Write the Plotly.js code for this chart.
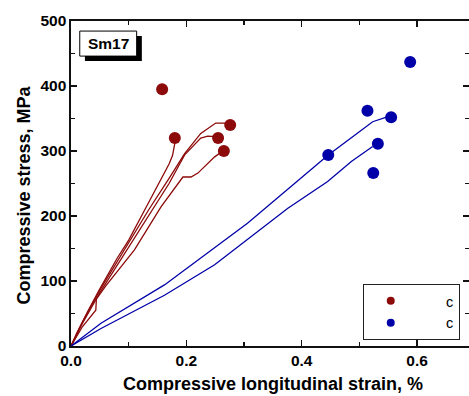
<!DOCTYPE html>
<html>
<head>
<meta charset="utf-8">
<script src="https://cdn.plot.ly/plotly-3.0.1.min.js"></script>
<style>html,body{margin:0;padding:0;background:#fff;}#chart{width:469px;height:396px;}</style>
</head>
<body>
<div id="chart"></div>
<script>
// Red (first group) stress-strain curves
const redA_x = [0, 0.01, 0.03, 0.05, 0.08, 0.10, 0.13, 0.155, 0.17, 0.176, 0.18];
const redA_y = [0, 20, 55, 88, 135, 163, 213, 255, 280, 293, 312];
const redB_x = [0, 0.02, 0.05, 0.10, 0.135, 0.17, 0.197, 0.225, 0.251, 0.269, 0.274];
const redB_y = [0, 37, 86, 158, 210, 258, 296, 327, 343, 343, 340];
const redC_x = [0, 0.02, 0.05, 0.10, 0.14, 0.17, 0.197, 0.225, 0.237, 0.251];
const redC_y = [0, 35, 82, 152, 206, 250, 294, 320, 323, 322];
const redD_x = [0, 0.02, 0.043, 0.044, 0.06, 0.11, 0.156, 0.194, 0.208, 0.22, 0.249, 0.262];
const redD_y = [0, 30, 55, 72, 92, 148, 214, 260, 260, 266, 291, 299];
// Blue (second group) stress-strain curves
const blueE_x = [0, 0.052, 0.162, 0.306, 0.446, 0.485, 0.523, 0.547];
const blueE_y = [0, 35, 94, 189, 294, 320, 345, 352];
const blueF_x = [0, 0.052, 0.162, 0.249, 0.376, 0.445, 0.486, 0.523];
const blueF_y = [0, 27, 78, 125, 212, 253, 284, 307];
// Failure points
const redPts_x = [0.158, 0.180, 0.276, 0.255, 0.265];
const redPts_y = [395, 320, 340, 320, 300];
const bluePts_x = [0.588, 0.514, 0.555, 0.532, 0.524, 0.446];
const bluePts_y = [437, 362, 352, 311, 266, 294];
// Labels
const legendNames = ["c", "c"];
const specimen = "Sm17";
const xTitle = "Compressive longitudinal strain, %";
const yTitle = "Compressive stress, MPa";

const RED = "#8c0a0a", BLUE = "#0000a8";
const PAD = "\u00a0\u00a0\u00a0\u00a0\u00a0\u00a0\u00a0";
const line = (x, y, c) => ({x, y, mode: "lines", line: {color: c, width: 1.3}, showlegend: false, hoverinfo: "skip"});
const data = [
  line(redA_x, redA_y, RED), line(redB_x, redB_y, RED), line(redC_x, redC_y, RED), line(redD_x, redD_y, RED),
  line(blueE_x, blueE_y, BLUE), line(blueF_x, blueF_y, BLUE),
  {x: redPts_x, y: redPts_y, mode: "markers", marker: {color: RED, size: 12}, showlegend: false},
  {x: bluePts_x, y: bluePts_y, mode: "markers", marker: {color: BLUE, size: 12}, showlegend: false},
  {x: [null], y: [null], mode: "markers", marker: {color: RED, size: 8}, name: PAD + legendNames[0]},
  {x: [null], y: [null], mode: "markers", marker: {color: BLUE, size: 8}, name: PAD + legendNames[1]}
];

const axBase = {
  showgrid: false, zeroline: false, showline: true, linecolor: "#111", linewidth: 1.6,
  ticks: "inside", ticklen: 6, tickwidth: 1.2, tickcolor: "#111", mirror: "ticks",
  tickfont: {family: "Liberation Sans, Arial, sans-serif", size: 15.5, color: "#000", weight: "bold"},
  fixedrange: true
};

const layout = {
  width: 469, height: 396,
  margin: {l: 71, r: 0, t: 21, b: 50},
  paper_bgcolor: "#fff", plot_bgcolor: "#fff",
  font: {family: "Liberation Sans, Arial, sans-serif", color: "#000"},
  xaxis: Object.assign({}, axBase, {range: [0, 0.69], dtick: 0.2, tick0: 0, tickformat: ".1f",
    minor: {dtick: 0.1, ticks: "inside", ticklen: 4, tickcolor: "#111", tickwidth: 1.2}}),
  yaxis: Object.assign({}, axBase, {range: [0, 500], dtick: 100, tick0: 0,
    minor: {dtick: 50, ticks: "inside", ticklen: 4, tickcolor: "#111", tickwidth: 1.2}}),
  showlegend: true,
  legend: {x: 0.733, y: 0.191, xanchor: "left", yanchor: "top", bordercolor: "#222", borderwidth: 1,
    bgcolor: "#fff", font: {size: 14.5, color: "#000"}, itemwidth: 44, tracegroupgap: 0},
  shapes: [
    {type: "rect", xref: "paper", yref: "paper", x0: 0.035, x1: 0.178, y0: 0.877, y1: 0.954,
      fillcolor: "#000", line: {width: 0}},
    {type: "rect", xref: "paper", yref: "paper", x0: 0.022, x1: 0.165, y0: 0.892, y1: 0.969,
      fillcolor: "#fff", line: {color: "#000", width: 1}}
  ],
  annotations: [
    {text: specimen, xref: "paper", yref: "paper", x: 0.0935, y: 0.930, xanchor: "center", yanchor: "middle",
      showarrow: false, font: {size: 15.5, weight: "bold", color: "#000"}},
    {text: yTitle, xref: "paper", yref: "paper", x: -0.119, y: 0.465, xanchor: "center", yanchor: "middle",
      textangle: -90, showarrow: false, font: {size: 18, weight: "bold", color: "#000"}},
    {text: xTitle, xref: "paper", yref: "paper", x: 0.507, y: -0.117, xanchor: "center", yanchor: "middle",
      showarrow: false, font: {size: 18, weight: "bold", color: "#000"}}
  ]
};

Plotly.newPlot("chart", data, layout, {displayModeBar: false, staticPlot: true});
</script>
</body>
</html>
